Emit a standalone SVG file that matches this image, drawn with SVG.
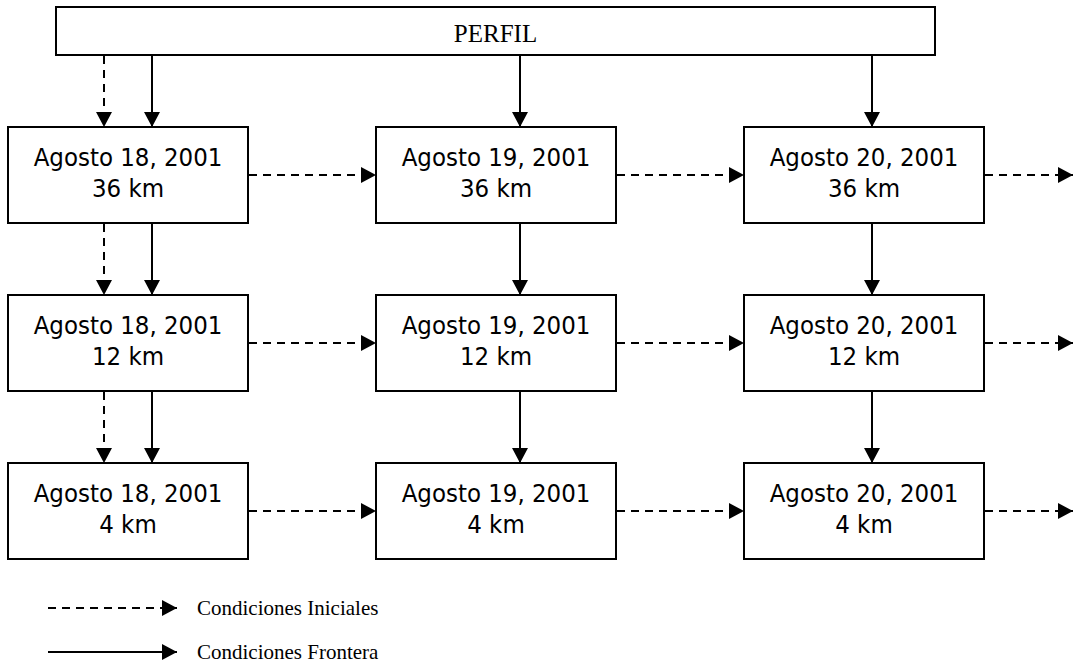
<svg xmlns="http://www.w3.org/2000/svg" width="1073" height="668" viewBox="0 0 1073 668">
<style>
.box{fill:#fff;stroke:#000;stroke-width:2}
.t{font-family:"DejaVu Sans Condensed","DejaVu Sans",sans-serif;font-size:25.5px;text-anchor:middle;fill:#000}
.serif{font-family:"Liberation Serif","Times New Roman",serif;fill:#000}
.solid{stroke:#000;stroke-width:2;fill:none;marker-end:url(#ah)}
.dash{stroke:#000;stroke-width:2;fill:none;stroke-dasharray:8 6;marker-end:url(#ah)}
</style>
<defs>
<marker id="ah" markerUnits="userSpaceOnUse" markerWidth="15" markerHeight="16" refX="15" refY="8" orient="auto" viewBox="0 0 15 16">
<path d="M0,0 L15,8 L0,16 z" fill="#000"/>
</marker>
</defs>
<rect width="1073" height="668" fill="#fff"/>
<g id="perfil">
<rect class="box" x="56" y="7" width="879" height="48"/>
<text class="serif" x="495.5" y="42" font-size="25" text-anchor="middle">PERFIL</text>
</g>
<g id="n-18-36"><rect class="box" x="8" y="127" width="240" height="96"/><text class="t" x="128" y="166">Agosto 18, 2001</text><text class="t" x="128" y="197">36 km</text></g>
<g id="n-19-36"><rect class="box" x="376" y="127" width="240" height="96"/><text class="t" x="496" y="166">Agosto 19, 2001</text><text class="t" x="496" y="197">36 km</text></g>
<g id="n-20-36"><rect class="box" x="744" y="127" width="240" height="96"/><text class="t" x="864" y="166">Agosto 20, 2001</text><text class="t" x="864" y="197">36 km</text></g>
<g id="n-18-12"><rect class="box" x="8" y="295" width="240" height="96"/><text class="t" x="128" y="334">Agosto 18, 2001</text><text class="t" x="128" y="365">12 km</text></g>
<g id="n-19-12"><rect class="box" x="376" y="295" width="240" height="96"/><text class="t" x="496" y="334">Agosto 19, 2001</text><text class="t" x="496" y="365">12 km</text></g>
<g id="n-20-12"><rect class="box" x="744" y="295" width="240" height="96"/><text class="t" x="864" y="334">Agosto 20, 2001</text><text class="t" x="864" y="365">12 km</text></g>
<g id="n-18-4"><rect class="box" x="8" y="463" width="240" height="96"/><text class="t" x="128" y="502">Agosto 18, 2001</text><text class="t" x="128" y="533">4 km</text></g>
<g id="n-19-4"><rect class="box" x="376" y="463" width="240" height="96"/><text class="t" x="496" y="502">Agosto 19, 2001</text><text class="t" x="496" y="533">4 km</text></g>
<g id="n-20-4"><rect class="box" x="744" y="463" width="240" height="96"/><text class="t" x="864" y="502">Agosto 20, 2001</text><text class="t" x="864" y="533">4 km</text></g>
<g id="connectors">
<line class="dash" x1="104" y1="56" x2="104" y2="127"/>
<line class="solid" x1="152" y1="56" x2="152" y2="127"/>
<line class="solid" x1="520" y1="56" x2="520" y2="127"/>
<line class="solid" x1="872" y1="56" x2="872" y2="127"/>
<line class="dash" x1="104" y1="224" x2="104" y2="295"/>
<line class="solid" x1="152" y1="224" x2="152" y2="295"/>
<line class="solid" x1="520" y1="224" x2="520" y2="295"/>
<line class="solid" x1="872" y1="224" x2="872" y2="295"/>
<line class="dash" x1="104" y1="392" x2="104" y2="463"/>
<line class="solid" x1="152" y1="392" x2="152" y2="463"/>
<line class="solid" x1="520" y1="392" x2="520" y2="463"/>
<line class="solid" x1="872" y1="392" x2="872" y2="463"/>
<line class="dash" x1="249" y1="175" x2="376" y2="175"/>
<line class="dash" x1="617" y1="175" x2="744" y2="175"/>
<line class="dash" x1="985" y1="175" x2="1073" y2="175"/>
<line class="dash" x1="249" y1="343" x2="376" y2="343"/>
<line class="dash" x1="617" y1="343" x2="744" y2="343"/>
<line class="dash" x1="985" y1="343" x2="1073" y2="343"/>
<line class="dash" x1="249" y1="511" x2="376" y2="511"/>
<line class="dash" x1="617" y1="511" x2="744" y2="511"/>
<line class="dash" x1="985" y1="511" x2="1073" y2="511"/>
</g>
<g id="legend">
<line class="dash" x1="48" y1="608" x2="177" y2="608"/>
<text class="serif" x="197" y="615" font-size="21">Condiciones Iniciales</text>
<line class="solid" x1="48" y1="652" x2="177" y2="652"/>
<text class="serif" x="197" y="659" font-size="21">Condiciones Frontera</text>
</g>
</svg>
